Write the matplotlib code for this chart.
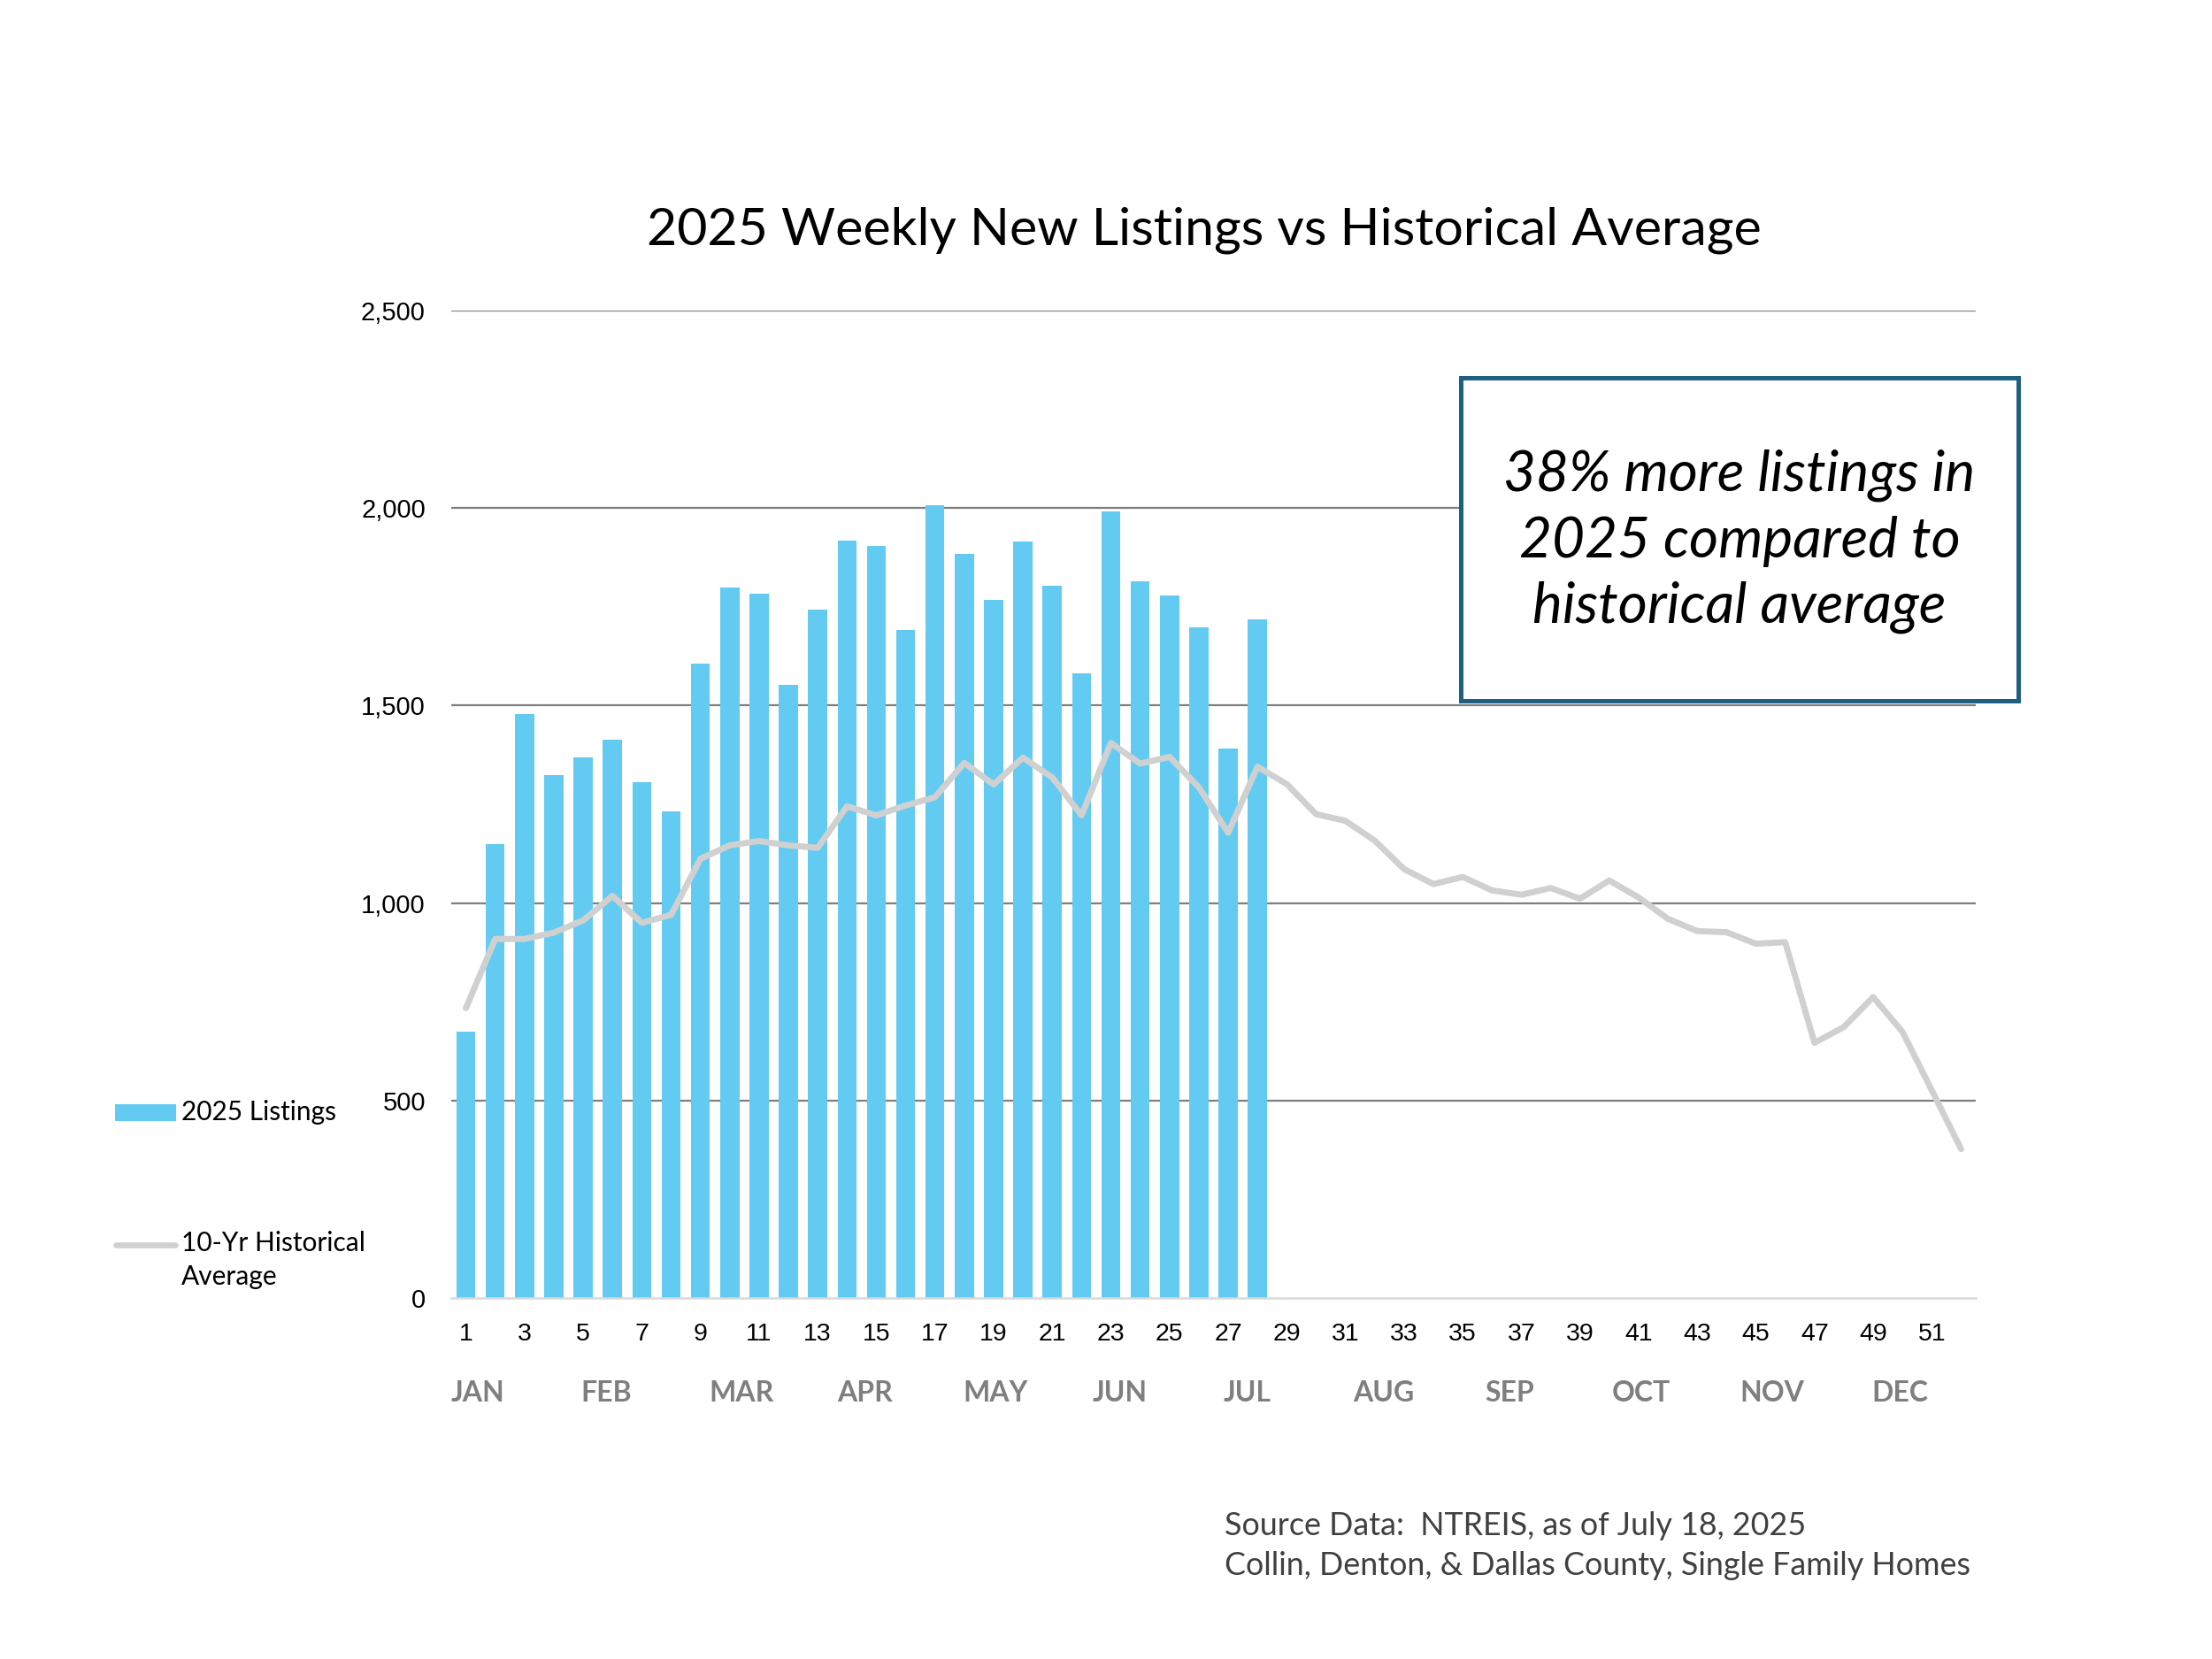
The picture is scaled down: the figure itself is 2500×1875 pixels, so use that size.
import numpy as np
import matplotlib
matplotlib.use("Agg")
import matplotlib.pyplot as plt
from matplotlib.patches import Rectangle
from matplotlib.lines import Line2D
import matplotlib.ticker as mticker

# data
weeks = list(range(1, 53))
listings_2025 = [675, 1149, 1478, 1325, 1368, 1414, 1307, 1232, 1607, 1799,
                 1784, 1553, 1743, 1918, 1905, 1692, 2007, 1884, 1767, 1916,
                 1804, 1582, 1991, 1814, 1778, 1697, 1391, 1719]
hist_avg = [734, 909, 909, 925, 956, 1018, 950, 970, 1112, 1146,
            1157, 1146, 1140, 1245, 1222, 1247, 1268, 1355, 1300, 1368,
            1318, 1222, 1405, 1353, 1370, 1293, 1178, 1345, 1301, 1225,
            1208, 1158, 1086, 1048, 1066, 1032, 1021, 1038, 1011, 1057,
            1014, 960, 929, 926, 897, 901, 646, 686, 762, 674,
            526, 377]
months = ["JAN", "FEB", "MAR", "APR", "MAY", "JUN",
          "JUL", "AUG", "SEP", "OCT", "NOV", "DEC"]
y_ticks = [0, 500, 1000, 1500, 2000, 2500]

title = "2025 Weekly New Listings vs Historical Average"
note = "38% more listings in\n2025 compared to\nhistorical average"
source = "Source Data:  NTREIS, as of July 18, 2025\nCollin, Denton, & Dallas County, Single Family Homes"

# label placement along the week axis
month_x = [1.4, 5.8, 10.4, 14.6, 19.05, 23.3, 27.65, 32.3, 36.6, 41.1, 45.55, 49.9]

BAR_C = "#63CBF2"
LINE_C = "#D0D0D0"
GRID_C = "#7F7F7F"
BOX_C = "#1F5F80"
TXT_FONT = ["Lato", "DejaVu Sans"]
TICK_FONT = ["Liberation Sans", "DejaVu Sans"]

fig = plt.figure(figsize=(25, 18.75), dpi=100)
fig.patch.set_facecolor("white")
ax = fig.add_axes([0.204, 0.2176, 0.6892, 0.5952])

ax.bar(weeks[:len(listings_2025)], listings_2025, width=0.65, color=BAR_C,
       zorder=2)
ax.plot(weeks, hist_avg, color=LINE_C, linewidth=5.0, solid_joinstyle="round",
        solid_capstyle="round", zorder=3)

ax.set_xlim(0.5, 52.5)
ax.set_ylim(0, 2500)
ax.set_yticks(y_ticks)
ax.yaxis.set_major_formatter(mticker.StrMethodFormatter("{x:,.0f}"))
ax.set_xticks(weeks[::2])
ax.tick_params(axis="y", length=0, labelsize=21, pad=21)
ax.tick_params(axis="x", length=0, labelsize=20.5, pad=20)
for lab in ax.get_xticklabels() + ax.get_yticklabels():
    lab.set_fontfamily(TICK_FONT)

for sp in ["top", "right", "left"]:
    ax.spines[sp].set_visible(False)
ax.spines["bottom"].set_color("#D9D9D9")
ax.spines["bottom"].set_linewidth(1.8)
for v in y_ticks[1:]:
    ax.axhline(v, color=GRID_C, linewidth=1.6, zorder=1)

for name, xm in zip(months, month_x):
    ax.text(xm, -0.096, name, transform=ax.get_xaxis_transform(),
            ha="center", va="center", fontsize=23, fontweight="bold",
            color="#7F7F7F", family=TXT_FONT)

fig.text(0.5445, 0.861, title, ha="center", va="center", fontsize=42.5,
         color="black", family=TXT_FONT)

# callout box
fig.add_artist(Rectangle((1651 / 2500, 1 - 792 / 1875), 630 / 2500, 365 / 1875,
                         transform=fig.transFigure, facecolor="white",
                         edgecolor=BOX_C, linewidth=3.6, zorder=5))
fig.text(1966 / 2500, 1 - 612 / 1875, note, ha="center", va="center",
         fontsize=46, style="italic", linespacing=1.34, family=TXT_FONT,
         zorder=6)

# legend on the left
fig.add_artist(Rectangle((130 / 2500, 1 - 1267 / 1875), 69 / 2500, 19 / 1875,
                         transform=fig.transFigure, facecolor=BAR_C,
                         edgecolor="none"))
fig.text(205 / 2500, 1 - 1257 / 1875, "2025 Listings", ha="left", va="center",
         fontsize=21.5, family=TXT_FONT)
fig.add_artist(Line2D([131 / 2500, 198 / 2500], [1 - 1407 / 1875] * 2,
                      transform=fig.transFigure, color=LINE_C, linewidth=4.8,
                      solid_capstyle="round"))
fig.text(205 / 2500, 1 - 1391 / 1875, "10-Yr Historical\nAverage", ha="left",
         va="top", fontsize=21.5, linespacing=1.45, family=TXT_FONT)

fig.text(1384 / 2500, 1 - 1708 / 1875, source, ha="left", va="top",
         fontsize=25.8, color="#404040", linespacing=1.45, family=TXT_FONT)

fig.savefig("out.png", dpi=100, facecolor="white")
